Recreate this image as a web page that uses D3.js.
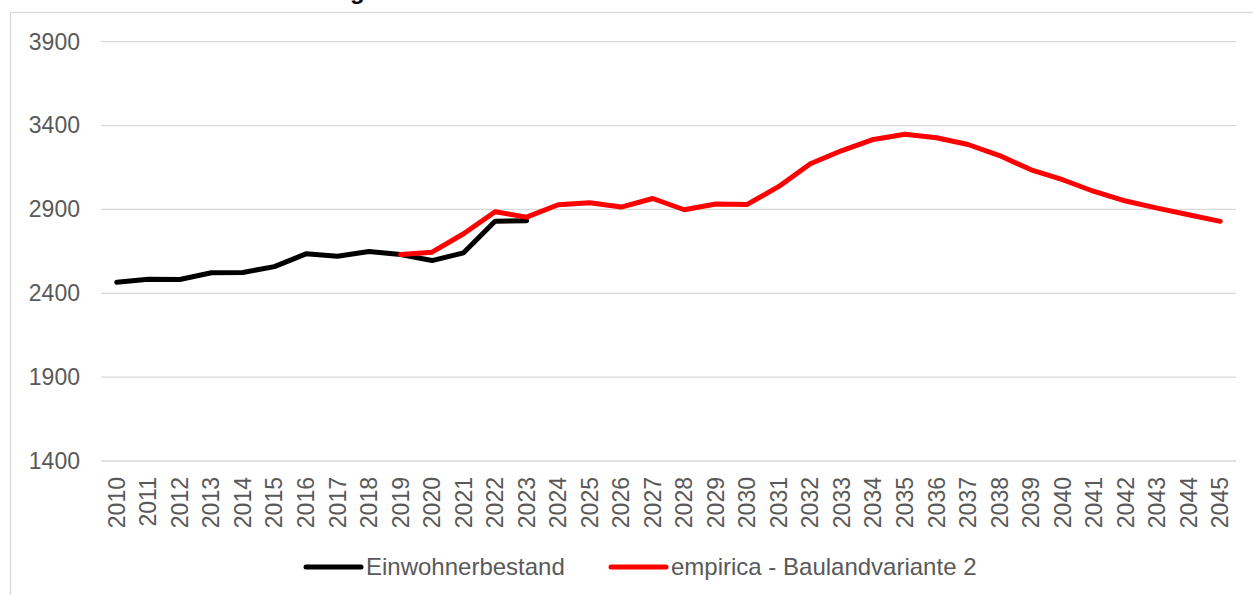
<!DOCTYPE html>
<html>
<head>
<meta charset="utf-8">
<script src="https://cdn.jsdelivr.net/npm/d3@7"></script>
<style>
  body { margin: 0; background: #ffffff; }
  svg { display: block; font-family: Arial, "Liberation Sans", sans-serif; }
</style>
</head>
<body>
<div id="chart"></div>
<script>
// Chart data
var years = d3.range(2010, 2046).map(String);

var bestandYears = ["2010", "2011", "2012", "2013", "2014", "2015", "2016", "2017",
                    "2018", "2019", "2020", "2021", "2022", "2023"];
var bestandValues = [2466, 2484, 2482, 2522, 2524, 2559, 2635, 2621,
                     2649, 2631, 2595, 2641, 2830, 2832];

var prognoseYears = d3.range(2019, 2046).map(String);
var prognoseValues = [2631, 2645, 2755, 2886, 2854, 2928, 2940, 2914, 2965, 2898,
                      2932, 2930, 3037, 3172, 3251, 3317, 3348, 3327, 3287, 3221,
                      3136, 3077, 3007, 2950, 2908, 2868, 2829];

var yTicks = [1400, 1900, 2400, 2900, 3400, 3900];

var seriesNames = ["Einwohnerbestand", "empirica - Baulandvariante 2"];
var seriesColors = ["#000000", "#ff0000"];

var titleText = "Einwohnerentwicklung in der Gemeinde bis 2045";

// Dimensions
var svgWidth = 1253;
var svgHeight = 595;

var plot = { left: 101, right: 1236, top: 41.7, bottom: 461 };

var svg = d3.select("#chart")
            .append("svg")
            .attr("width", svgWidth)
            .attr("height", svgHeight);

// Title sits above the visible area, only its descenders show
var title = svg.append("text")
               .attr("x", 0)
               .attr("y", -0.8)
               .attr("font-size", 24)
               .attr("font-weight", "bold")
               .attr("fill", "#000000")
               .text(titleText);
var gIndex = titleText.indexOf("g");
var gPos = title.node().getStartPositionOfChar(gIndex).x;
title.attr("x", 350 - gPos);

// Chart area border
svg.append("rect")
   .attr("x", 10.5)
   .attr("y", 12.5)
   .attr("width", svgWidth + 20)
   .attr("height", svgHeight + 20)
   .attr("fill", "none")
   .attr("stroke", "#d9d9d9")
   .attr("stroke-width", 1.3);

// Scales
var xScale = d3.scaleBand()
               .domain(years)
               .range([plot.left, plot.right]);

var yScale = d3.scaleLinear()
               .domain([1400, 3900])
               .range([plot.bottom, plot.top]);

// Gridlines
svg.append("g")
   .selectAll("line")
   .data(yTicks)
   .enter()
   .append("line")
   .attr("x1", plot.left)
   .attr("x2", plot.right)
   .attr("y1", d => yScale(d))
   .attr("y2", d => yScale(d))
   .attr("stroke", "#d9d9d9")
   .attr("stroke-width", 1.3);

// Y axis labels
var leftAxis = d3.axisLeft(yScale)
                 .tickValues(yTicks)
                 .tickFormat(d3.format("d"))
                 .tickSize(0)
                 .tickPadding(21);
var yAxisGroup = svg.append("g")
                    .attr("transform", `translate(${plot.left}, 0)`)
                    .call(leftAxis);
yAxisGroup.select(".domain").remove();
yAxisGroup.selectAll("text")
          .attr("font-size", 23)
          .attr("font-family", "Arial, 'Liberation Sans', sans-serif")
          .attr("fill", "#595959");

// X axis labels, rotated
var bottomAxis = d3.axisBottom(xScale).tickSize(0);
var xAxisGroup = svg.append("g")
                    .attr("transform", `translate(0, ${plot.bottom})`)
                    .call(bottomAxis);
xAxisGroup.select(".domain").remove();
xAxisGroup.selectAll("text")
          .attr("font-size", 23)
          .attr("font-family", "Arial, 'Liberation Sans', sans-serif")
          .attr("fill", "#595959")
          .attr("transform", "rotate(-90)")
          .attr("text-anchor", "end")
          .attr("dy", "0.35em")
          .attr("y", 0)
          .attr("x", -16);

// Lines
var line = d3.line()
             .x(d => xScale(d[0]) + xScale.bandwidth() / 2)
             .y(d => yScale(d[1]));

var bestand = d3.zip(bestandYears, bestandValues);
var prognose = d3.zip(prognoseYears, prognoseValues);

svg.append("path")
   .datum(bestand)
   .attr("d", line)
   .attr("fill", "none")
   .attr("stroke", seriesColors[0])
   .attr("stroke-width", 5)
   .attr("stroke-linejoin", "round")
   .attr("stroke-linecap", "round");

svg.append("path")
   .datum(prognose)
   .attr("d", line)
   .attr("fill", "none")
   .attr("stroke", seriesColors[1])
   .attr("stroke-width", 5)
   .attr("stroke-linejoin", "round")
   .attr("stroke-linecap", "round");

// Legend
var legendX = [306, 611];
var legend = svg.append("g")
                .selectAll("g")
                .data(seriesNames)
                .enter()
                .append("g")
                .attr("transform", (d, i) => `translate(${legendX[i]}, 567)`);

legend.append("line")
      .attr("x1", 0)
      .attr("x2", 55)
      .attr("y1", 0)
      .attr("y2", 0)
      .attr("stroke", (d, i) => seriesColors[i])
      .attr("stroke-width", 5)
      .attr("stroke-linecap", "round");

legend.append("text")
      .attr("x", 60)
      .attr("y", 0)
      .attr("dy", "0.35em")
      .attr("font-size", 24)
      .attr("fill", "#595959")
      .text(d => d);
</script>
</body>
</html>
